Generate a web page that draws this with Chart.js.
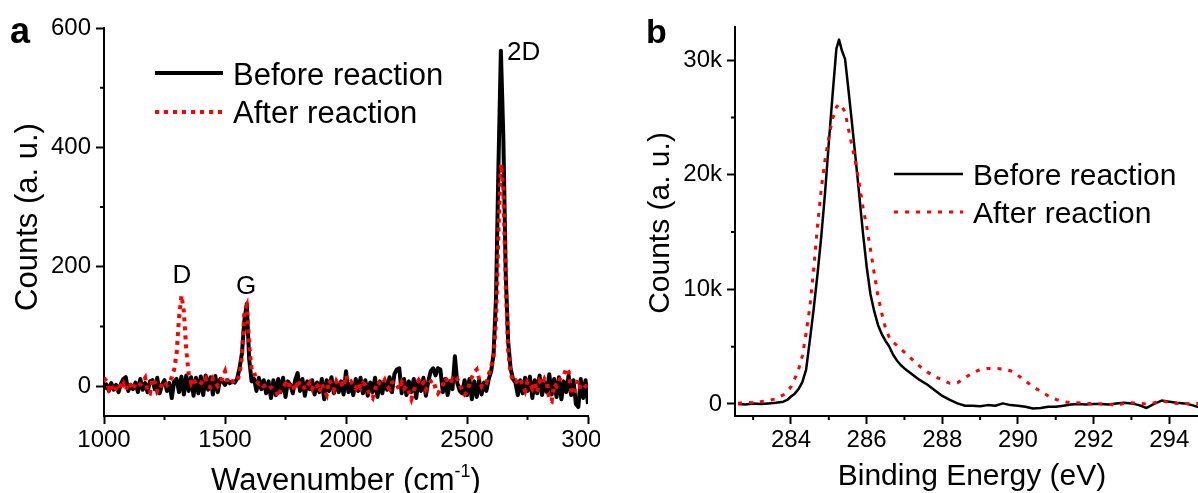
<!DOCTYPE html>
<html>
<head>
<meta charset="utf-8">
<script src="https://cdn.jsdelivr.net/npm/chart.js@4.4.0/dist/chart.umd.min.js"></script>
<style>
  body { margin: 0; background: #fff; }
  #wrap { position: relative; width: 1198px; height: 493px; overflow: hidden; background: #fff; }
  canvas { position: absolute; top: 0; }
  #ca { left: 0; }
  #cb { left: 600px; }
</style>
</head>
<body>
<div id="wrap">
  <canvas id="ca" width="600" height="493"></canvas>
  <canvas id="cb" width="598" height="493"></canvas>
</div>
<script>
// ---- panel a: Raman ----
var wavenumber = [
  1000, 1010, 1020, 1030, 1040, 1050, 1060, 1070, 1080, 1090, 1100, 1110, 1120, 1130, 1140, 1150, 1160, 1170, 1180, 1190,
  1200, 1210, 1220, 1230, 1240, 1250, 1260, 1270, 1280, 1290, 1300, 1310, 1320, 1330, 1340, 1350, 1360, 1370, 1380, 1390,
  1400, 1410, 1420, 1430, 1440, 1450, 1460, 1470, 1480, 1490, 1500, 1510, 1520, 1530, 1540, 1550, 1560, 1570, 1580, 1590,
  1600, 1610, 1620, 1630, 1640, 1650, 1660, 1670, 1680, 1690, 1700, 1710, 1720, 1730, 1740, 1750, 1760, 1770, 1780, 1790,
  1800, 1810, 1820, 1830, 1840, 1850, 1860, 1870, 1880, 1890, 1900, 1910, 1920, 1930, 1940, 1950, 1960, 1970, 1980, 1990,
  2000, 2010, 2020, 2030, 2040, 2050, 2060, 2070, 2080, 2090, 2100, 2110, 2120, 2130, 2140, 2150, 2160, 2170, 2180, 2190,
  2200, 2210, 2220, 2230, 2240, 2250, 2260, 2270, 2280, 2290, 2300, 2310, 2320, 2330, 2340, 2350, 2360, 2370, 2380, 2390,
  2400, 2410, 2420, 2430, 2440, 2450, 2460, 2470, 2480, 2490, 2500, 2510, 2520, 2530, 2540, 2550, 2560, 2570, 2580, 2590,
  2600, 2610, 2620, 2630, 2640, 2650, 2660, 2670, 2680, 2690, 2700, 2710, 2720, 2730, 2740, 2750, 2760, 2770, 2780, 2790,
  2800, 2810, 2820, 2830, 2840, 2850, 2860, 2870, 2880, 2890, 2900, 2910, 2920, 2930, 2940, 2950, 2960, 2970, 2980, 2990,
  3000
];
var ramanBefore = [
  -5, 3, -8, 5, -6, 2, -10, 4, 12, 15, -8, 2, -5, 6, -10, 12, -6, 5, -10, 8,
  10, -5, 14, -12, 3, 10, -8, 5, -20, 8, 12, -10, 16, -14, 18, -8, 15, -16, 14, -12,
  16, -15, 18, -6, 15, -14, 17, -10, 12, 8, 2, 10, 5, 8, 6, 12, 30, 55, 110, 138,
  45, 8, 12, -8, 14, -5, 10, -12, 8, -20, 10, -15, 12, -10, 14, -18, 8, 2, -12, 10,
  22, -8, 12, -16, 8, -5, 10, -14, 6, -10, 12, -22, 10, -8, 15, -12, 6, -10, 8, -14,
  25, -10, 5, -15, 12, -8, 14, -12, 10, -16, 6, -10, 14, -18, 8, -12, 10, -6, 15, -10,
  20, 28, 30, -12, 12, -15, 8, -10, 12, -20, 10, -8, 14, -16, 8, 25, 30, 18, 30, 28,
  -10, 12, -15, 8, -5, 50, 5, -8, -12, 10, -15, 12, -22, 8, -18, 10, -14, 6, -8, 12,
  25, 55, 150, 370, 562, 420, 190, 75, 30, 12, 6, -15, 10, -12, 14, -8, 16, -20, 10, -12,
  18, -15, 6, -10, 20, -14, 12, -18, 15, -22, 8, -10, 18, -15, 10, -30, -35, 12, -20, 10,
  -30
];
var ramanAfter = [
  14, 8, -5, 2, -10, -4, 5, -3, 4, -8, 6, 2, -6, 4, 0, 3, 8, 14, -10, -12,
  13, 6, -10, -6, 5, 8, 2, 7, 15, 28, 55, 115, 152, 125, 60, 20, 5, 12, 4, 8,
  6, 3, 12, 0, -2, 13, 8, 0, 5, 16, 25, 5, 4, 7, 10, 8, 20, 50, 125, 135,
  70, 26, 24, 8, 4, 6, 0, 2, -4, -2, -6, -8, -18, -5, -2, 4, -3, 6, 2, -8,
  10, 2, 4, -6, 0, 6, -4, 5, 2, -10, 4, -8, -15, 10, 3, -6, 8, 0, 4, -2,
  18, 6, 8, 0, -4, 6, -3, 5, 2, -8, -15, -20, -5, 8, 4, 2, 10, 0, -5, 6,
  8, 2, -6, 6, -4, 0, -10, -22, -8, 4, 10, 2, 6, -6, 2, 8, 10, -4, -12, -6,
  2, 14, 8, 4, 12, 8, 12, 2, -8, -14, -10, 4, 15, 24, 28, 12, 0, 8, 6, 20,
  32, 50, 110, 260, 372, 330, 170, 60, 22, 8, 10, 4, 10, 2, -8, 8, 6, -4, 4, -10,
  8, 2, 12, 4, -22, -25, 4, 0, 10, 14, 18, 30, 24, -8, -14, 2, 10, -6, -4, 0,
  2
];
var ramanXTicks = [1000, 1500, 2000, 2500, 3000];
var ramanXLabels = ['1000', '1500', '2000', '2500', '3000'];
var ramanXMinor = [1250, 1750, 2250, 2750];
var ramanYTicks = [0, 200, 400, 600];
var ramanYLabels = ['0', '200', '400', '600'];
var ramanYMinor = [100, 300, 500];
var peakNames = ['D', 'G', '2D'];

// ---- panel b: XPS C1s ----
var energy = [
  282.6, 282.8, 283.0, 283.2, 283.4, 283.6, 283.8,
  283.9, 284.0, 284.1, 284.2, 284.3, 284.4, 284.5, 284.6, 284.7, 284.8, 284.9, 285.0, 285.1, 285.2,
  285.27, 285.35, 285.43,
  285.5, 285.6, 285.7, 285.8, 285.9, 286.0, 286.1, 286.2, 286.3, 286.4, 286.5, 286.6, 286.7, 286.8, 286.9, 287.0,
  287.2, 287.4, 287.6, 287.8, 288.0, 288.2, 288.4, 288.6, 288.8, 289.0, 289.2, 289.4, 289.6, 289.8,
  290.0, 290.2, 290.4, 290.6, 290.8, 291.0, 291.2, 291.4, 291.6, 291.8, 292.0, 292.2, 292.4, 292.6,
  292.8, 293.0, 293.2, 293.4, 293.6, 293.8, 294.0, 294.2, 294.4, 294.6, 294.8
];
var xpsBefore = [
  0, -50, 50, 0, 50, 100, 200,
  350, 650, 900, 1300, 1900, 3000, 5600, 8300, 11300, 14600, 18400, 22800, 27000, 31000,
  31800, 30800, 30100,
  28000, 24900, 21700, 18400, 15000, 12000, 9600, 8100, 6900, 6100, 5500, 5000, 4300, 3800, 3400, 3100,
  2600, 2100, 1700, 1200, 700, 350, 50, -150, -150, -200, -100, -150, 50, -100,
  -150, -250, -400, -350, -250, -250, -150, -50, 0, -50, 0, 0, -50, 50,
  100, 50, -100, -350, 0, 300, 200, 100, 50, -100, -300
];
var xpsAfter = [
  50, 150, 100, 200, 300, 450, 800,
  1100, 1500, 2200, 3000, 4200, 6200, 8500, 11800, 15500, 18800, 21300, 23300, 24900, 25900,
  26200, 25900, 25500,
  24300, 22700, 21200, 19300, 17200, 15500, 13500, 11400, 9400, 7900, 6600, 5800, 5400, 5100, 4800, 4500,
  3900, 3300, 2800, 2400, 2100, 1800, 1850, 2300, 2700, 3000, 3100, 3100, 3050, 2900,
  2500, 2000, 1500, 1100, 700, 400, 200, 100, 100, 50, 50, 0, 0, -150,
  50, 100, 50, 0, 100, 250, 150, 50, 50, 0, 50
];
var xpsXTicks = [284, 286, 288, 290, 292, 294];
var xpsXLabels = ['284', '286', '288', '290', '292', '294'];
var xpsXMinor = [283, 285, 287, 289, 291, 293];
var xpsYTicks = [0, 10000, 20000, 30000];
var xpsYLabels = ['0', '10k', '20k', '30k'];
var xpsYMinor = [5000, 15000, 25000];

var seriesNames = ['Before reaction', 'After reaction'];

var FONT = '"Liberation Sans", Arial, Helvetica, sans-serif';

function pts(xs, ys) {
  return xs.map(function (x, i) { return { x: x, y: ys[i] }; });
}

function drawParts(ctx, parts, x, y, align) {
  var w = 0;
  parts.forEach(function (p) { ctx.font = p.font; p.w = ctx.measureText(p.text).width; w += p.w; });
  var cx = align === 'left' ? x : x - w / 2;
  ctx.textAlign = 'left';
  ctx.textBaseline = 'alphabetic';
  parts.forEach(function (p) {
    ctx.font = p.font;
    ctx.fillText(p.text, cx, y + (p.dy || 0));
    cx += p.w;
  });
}

// minor ticks, titles, peak names and the legend
var decor = {
  id: 'decor',
  afterDraw: function (chart, args, o) {
    var ctx = chart.ctx, sx = chart.scales.x, sy = chart.scales.y;
    ctx.save();
    ctx.strokeStyle = '#000';
    ctx.fillStyle = '#000';
    ctx.lineWidth = 2;
    ctx.beginPath();
    o.minorX.forEach(function (v) {
      var px = sx.getPixelForValue(v);
      ctx.moveTo(px, sx.top); ctx.lineTo(px, sx.top + 4);
    });
    o.minorY.forEach(function (v) {
      var py = sy.getPixelForValue(v);
      ctx.moveTo(sy.right, py); ctx.lineTo(sy.right - 4, py);
    });
    ctx.stroke();

    o.texts.forEach(function (t) {
      ctx.save();
      ctx.translate(t.x, t.y);
      if (t.rot) ctx.rotate(-Math.PI / 2);
      drawParts(ctx, t.parts, 0, 0, t.align);
      ctx.restore();
    });

    (o.peaks || []).forEach(function (p) {
      drawParts(ctx, [{ text: p.name, font: '26px ' + FONT }],
        sx.getPixelForValue(p.x), sy.getPixelForValue(p.y), p.align);
    });

    var lg = o.legend;
    chart.data.datasets.forEach(function (ds, i) {
      var row = lg.rows[i];
      ctx.save();
      ctx.strokeStyle = ds.borderColor;
      ctx.lineWidth = ds.borderWidth;
      ctx.setLineDash(ds.borderDash || []);
      ctx.beginPath();
      ctx.moveTo(lg.x1, row.y); ctx.lineTo(lg.x2, row.y);
      ctx.stroke();
      ctx.restore();
      drawParts(ctx, [{ text: ds.label, font: lg.size + 'px ' + FONT }], lg.tx, row.base, 'left');
    });
    ctx.restore();
  }
};

function xAxis(min, max, majors, labels, boxH) {
  return {
    type: 'linear', min: min, max: max,
    afterBuildTicks: function (s) { s.ticks = majors.map(function (v) { return { value: v }; }); },
    afterFit: function (s) { s.height = boxH; s.paddingLeft = 0; s.paddingRight = 0; },
    border: { display: true, color: '#000', width: 2 },
    grid: { drawOnChartArea: false, drawTicks: true, tickLength: 8, tickWidth: 2, tickColor: '#000' },
    ticks: { color: '#000', font: { family: FONT, size: 24 }, padding: 2, maxRotation: 0, autoSkip: false,
      callback: function (v, i) { return labels[i]; } }
  };
}

function yAxis(min, max, majors, labels, boxW) {
  return {
    type: 'linear', min: min, max: max,
    afterBuildTicks: function (s) { s.ticks = majors.map(function (v) { return { value: v }; }); },
    afterFit: function (s) { s.width = boxW; s.paddingTop = 0; s.paddingBottom = 0; },
    border: { display: true, color: '#000', width: 2 },
    grid: { drawOnChartArea: false, drawTicks: true, tickLength: 8, tickWidth: 2, tickColor: '#000' },
    ticks: { color: '#000', font: { family: FONT, size: 24 }, padding: 5, autoSkip: false,
      callback: function (v, i) { return labels[i]; } }
  };
}

var chartA = new Chart(document.getElementById('ca'), {
  type: 'line',
  data: {
    datasets: [
      { label: seriesNames[0], data: pts(wavenumber, ramanBefore), borderColor: '#000', borderWidth: 4,
        borderJoinStyle: 'round', pointRadius: 0, tension: 0, order: 1 },
      { label: seriesNames[1], data: pts(wavenumber, ramanAfter), borderColor: '#ff0000', borderWidth: 4,
        borderDash: [4, 5], pointRadius: 0, tension: 0, order: 0 }
    ]
  },
  options: {
    responsive: false, animation: false, devicePixelRatio: 1, events: [],
    layout: { padding: { top: 28, right: 12, left: 0, bottom: 0 } },
    scales: {
      x: xAxis(1000, 3000, ramanXTicks, ramanXLabels, 77),
      y: yAxis(-50, 600, ramanYTicks, ramanYLabels, 104)
    },
    plugins: {
      legend: { display: false }, tooltip: { enabled: false },
      decor: {
        minorX: ramanXMinor, minorY: ramanYMinor,
        texts: [
          { parts: [{ text: 'a', font: 'bold 36px ' + FONT }], x: 10, y: 43, align: 'left' },
          { parts: [{ text: 'Counts (a. u.)', font: '31px ' + FONT }], x: 37, y: 217, rot: true },
          { parts: [{ text: 'Wavenumber (cm', font: '31px ' + FONT },
                    { text: '-1', font: '18px ' + FONT, dy: -13 },
                    { text: ')', font: '31px ' + FONT }], x: 346, y: 490 }
        ],
        peaks: [
          { name: peakNames[0], x: 1322, y: 173, align: 'center' },
          { name: peakNames[1], x: 1587, y: 155, align: 'center' },
          { name: peakNames[2], x: 2665, y: 546, align: 'left' }
        ],
        legend: { x1: 155, x2: 223, tx: 233, size: 31, rows: [{ y: 73, base: 85 }, { y: 112, base: 123 }] }
      }
    }
  },
  plugins: [decor]
});

var chartB = new Chart(document.getElementById('cb'), {
  type: 'line',
  data: {
    datasets: [
      { label: seriesNames[0], data: pts(energy, xpsBefore), borderColor: '#000', borderWidth: 2.5,
        borderJoinStyle: 'round', pointRadius: 0, tension: 0, order: 1 },
      { label: seriesNames[1], data: pts(energy, xpsAfter), borderColor: '#ff0000', borderWidth: 3,
        borderDash: [4, 7], pointRadius: 0, tension: 0, order: 0 }
    ]
  },
  options: {
    responsive: false, animation: false, devicePixelRatio: 1, events: [],
    layout: { padding: { top: 27, right: 0, left: 0, bottom: 0 } },
    scales: {
      x: xAxis(282.52, 294.76, xpsXTicks, xpsXLabels, 77),
      y: yAxis(-1050, 32900, xpsYTicks, xpsYLabels, 135)
    },
    plugins: {
      legend: { display: false }, tooltip: { enabled: false },
      decor: {
        minorX: xpsXMinor, minorY: xpsYMinor,
        texts: [
          { parts: [{ text: 'b', font: 'bold 34px ' + FONT }], x: 46, y: 43, align: 'left' },
          { parts: [{ text: 'Counts (a. u.)', font: '30px ' + FONT }], x: 69, y: 223, rot: true },
          { parts: [{ text: 'Binding Energy (eV)', font: '30px ' + FONT }], x: 372, y: 485 }
        ],
        legend: { x1: 294, x2: 363, tx: 373, size: 30, rows: [{ y: 174, base: 185 }, { y: 212, base: 223 }] }
      }
    }
  },
  plugins: [decor]
});
</script>
</body>
</html>
